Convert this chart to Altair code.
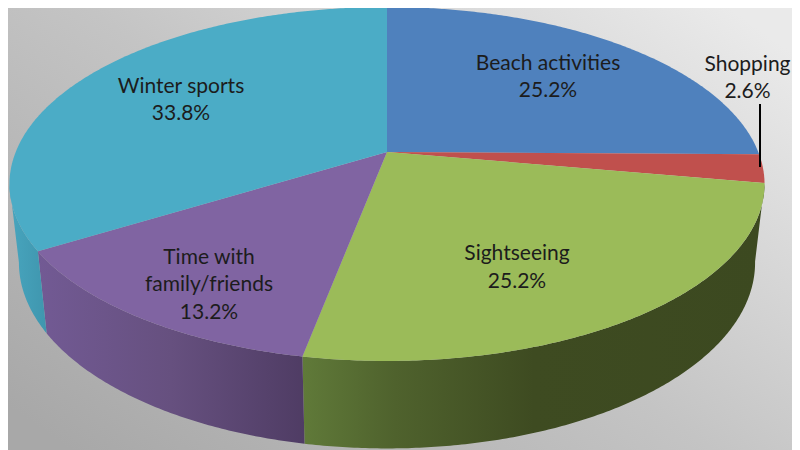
import math
import altair as alt
import pandas as pd

# Data
categories = ["Beach activities", "Shopping", "Sightseeing", "Time with family/friends", "Winter sports"]
shares = [25.2, 2.6, 25.2, 13.2, 33.8]
top_colors = ["#4f81bd", "#c0504d", "#9bbb59", "#8064a2", "#4bacc6"]

label_lines = ["Beach activities", "25.2%", "Shopping", "2.6%", "Sightseeing", "25.2%",
               "Time with", "family/friends", "13.2%", "Winter sports", "33.8%"]
label_x = [548, 548, 747.5, 747.5, 517, 517, 209, 209, 209, 181, 181]
label_y = [64, 91, 65, 92, 254, 282, 258, 285, 313, 87, 114]
leader_x, leader_y1, leader_y2 = [760], [104], [167]

# View geometry of the tilted disc (perspective projection of a circle)
AX, AY = 387.0, 152.0      # apex of the top face
BX, BY, K = 371.3, 171.2, 0.1808
SX, SY, BOTTOM_Y = 0.975, 1.05, 229.0   # bottom rim relative to the top rim

W, H = 784, 442


def top_pt(deg):
    t = math.radians(deg)
    u, v = math.sin(t), math.cos(t)
    d = 1 + K * v
    return AX + BX * u / d, AY - BY * v / d


def bottom_pt(deg):
    t = math.radians(deg)
    u, v = math.sin(t), math.cos(t)
    d = 1 + K * v
    return AX + SX * BX * u / d, BOTTOM_Y - SY * BY * v / d


def sweep(a, b, step=0.5):
    n = max(2, int(abs(b - a) / step))
    return [a + (b - a) * i / n for i in range(n + 1)]


x_scale = alt.Scale(domain=[8, 8 + W], range=[0, W], nice=False, zero=False)
y_scale = alt.Scale(domain=[8, 8 + H], range=[0, H], nice=False, zero=False)


def polygon(points, fill):
    df = pd.DataFrame({"x": [p[0] for p in points] + [points[0][0]],
                       "y": [p[1] for p in points] + [points[0][1]]})
    df["i"] = range(len(df))
    return alt.Chart(df).mark_line(fill=fill, stroke=None, strokeWidth=0, interpolate="linear").encode(
        x=alt.X("x:Q", scale=x_scale, axis=None),
        y=alt.Y("y:Q", scale=y_scale, axis=None),
        order=alt.Order("i:Q"),
    )


def grad(stops, x1=0, y1=0, x2=1, y2=0):
    return alt.Gradient(gradient="linear", x1=x1, y1=y1, x2=x2, y2=y2,
                        stops=[alt.GradientStop(offset=o, color=c) for o, c in stops])


# slice boundaries in degrees clockwise from the top
bounds = [0.0]
for s in shares:
    bounds.append(bounds[-1] + s * 3.6)

VISIBLE_END = 259.6   # left silhouette of the disc
wall_specs = [
    (bounds[2], bounds[3], grad([(0, "#3c4920"), (0.5, "#3e4b21"), (0.8, "#4f622d"), (1, "#607a39")], x1=1, x2=0)),
    (bounds[3], bounds[4], grad([(0, "#725a94"), (0.5, "#66507f"), (1, "#4f3c64")])),
    (bounds[4], VISIBLE_END, grad([(0, "#48a5be"), (1, "#3f96ae")])),
]

background = alt.Chart(pd.DataFrame({"a": [0]})).mark_rect(
    fill=grad([(0, "#a8a8a8"), (0.5, "#c4c4c4"), (1, "#eaeaea")], x1=0, y1=0.9, x2=1, y2=0.1)
).encode(x=alt.value(0), x2=alt.value(W), y=alt.value(0), y2=alt.value(H))

layers = [background]
for a, b, fill in wall_specs:
    deg = sweep(a, b)
    pts = [top_pt(d) for d in deg] + [bottom_pt(d) for d in reversed(deg)]
    layers.append(polygon(pts, fill))

for i, col in enumerate(top_colors):
    deg = sweep(bounds[i], bounds[i + 1])
    pts = [(AX, AY)] + [top_pt(d) for d in deg]
    layers.append(polygon(pts, col))

leader = alt.Chart(pd.DataFrame({"x": leader_x, "y": leader_y1, "y2": leader_y2})).mark_rule(
    color="#000000", strokeWidth=2
).encode(x=alt.X("x:Q", scale=x_scale, axis=None), y=alt.Y("y:Q", scale=y_scale, axis=None), y2="y2:Q")

labels = alt.Chart(pd.DataFrame({"x": label_x, "y": label_y, "t": label_lines})).mark_text(
    font="Lato", fontSize=21, color="#1c1c1c", align="center", baseline="middle"
).encode(x=alt.X("x:Q", scale=x_scale, axis=None), y=alt.Y("y:Q", scale=y_scale, axis=None), text="t:N")

chart = alt.layer(*layers, leader, labels).properties(
    width=W, height=H, padding=0, autosize=alt.AutoSizeParams(type="none"), background="#c4c4c4"
).configure_view(stroke=None)

chart.save("out.html", embed_options={"renderer": "svg", "actions": False})
